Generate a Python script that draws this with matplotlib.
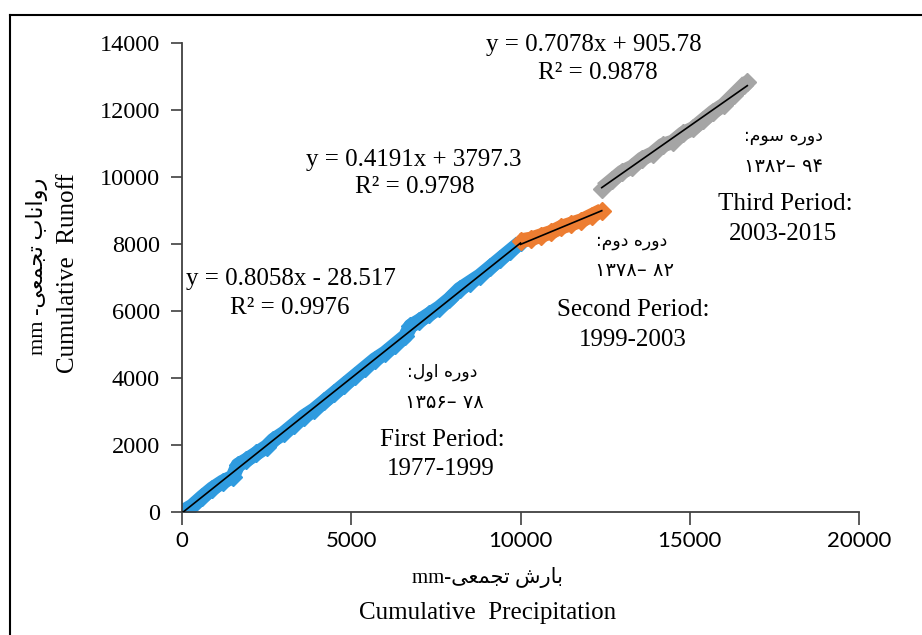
import matplotlib
matplotlib.use("Agg")
import matplotlib.pyplot as plt
from matplotlib.lines import Line2D
import numpy as np

# ---------------- data ----------------
p1_precip = [0, 300, 600, 900, 1200, 1500, 1650, 1900, 2200, 2500, 2700, 3000, 3300, 3600,
             3900, 4200, 4500, 4800, 5100, 5400, 5700, 6000, 6300, 6600, 6750, 7000, 7300,
             7600, 7900, 8200, 8500, 8800, 9100, 9400, 9700, 10000]
p1_runoff = [0, 180, 450, 700, 900, 1050, 1400, 1550, 1750, 1950, 2150, 2350, 2600, 2850,
             3050, 3300, 3550, 3800, 4050, 4300, 4550, 4750, 5000, 5250, 5550, 5700, 5900,
             6100, 6350, 6650, 6850, 7050, 7300, 7550, 7800, 8050]

p2_precip = [10000, 10300, 10600, 10900, 11200, 11500, 11800, 12100, 12400]
p2_runoff = [8100, 8150, 8250, 8350, 8500, 8600, 8700, 8850, 9000]

p3_precip = [12400, 12700, 13000, 13300, 13600, 13900, 14200, 14500, 14800, 15100,
             15400, 15700, 16000, 16300, 16600, 16700]
p3_runoff = [9650, 9900, 10150, 10300, 10550, 10700, 10950, 11050, 11300, 11450,
             11700, 11950, 12150, 12450, 12750, 12850]

# trend lines (slope, intercept) and R^2 as printed on the chart
trend_slopes = [0.8058, 0.4191, 0.7078]
trend_intercepts = [-28.517, 3797.3, 905.78]
r2_values = [0.9976, 0.9798, 0.9878]

x_ticks = [0, 5000, 10000, 15000, 20000]
y_ticks = [0, 2000, 4000, 6000, 8000, 10000, 12000, 14000]

colors = ["#2F9BDF", "#ED7D31", "#A5A5A5"]

# ---------------- figure ----------------
W, H = 922, 635
fig = plt.figure(figsize=(W / 100, H / 100), dpi=100)
ax = fig.add_axes([182 / W, 1 - 512 / H, (859 - 182) / W, (512 - 43) / H])

SERIF = ["Liberation Serif", "DejaVu Sans"]
PERS = ["DejaVu Sans"]

series = [(p1_precip, p1_runoff), (p2_precip, p2_runoff), (p3_precip, p3_runoff)]
for (xs, ys), c in zip(series, colors):
    ax.plot(xs, ys, color=c, lw=10.5, solid_capstyle="butt", zorder=2)
    ax.plot(xs, ys, ls="none", marker="D", ms=9, color=c, mec=c, zorder=2)

for (xs, ys), a, b in zip(series, trend_slopes, trend_intercepts):
    xx = np.array([min(xs), max(xs)], dtype=float)
    ax.plot(xx, a * xx + b, color="black", lw=1.2, zorder=3)

ax.set_xlim(0, 20000)
ax.set_ylim(0, 14000)
ax.set_xticks(x_ticks)
ax.set_yticks(y_ticks)
ax.set_xticklabels([str(v) for v in x_ticks], fontfamily="Lato", fontsize=16)
ax.set_yticklabels([str(v) for v in y_ticks], fontfamily="Liberation Serif", fontsize=17.5)
ax.tick_params(axis="y", direction="out", length=8, width=1.2, color="#404040", pad=8)
ax.tick_params(axis="x", direction="out", length=9, width=1.2, color="#404040", pad=5)
for s in ["top", "right"]:
    ax.spines[s].set_visible(False)
for s in ["left", "bottom"]:
    ax.spines[s].set_color("#404040")
    ax.spines[s].set_linewidth(1.3)


def ftext(px, py, s, size, family=SERIF, **kw):
    fig.text(px / W, 1 - py / H, s, fontsize=size, family=family,
             ha=kw.pop("ha", "center"), va=kw.pop("va", "center"), **kw)


# equations
def eq(a, b):
    sign = "+" if b >= 0 else "-"
    return f"y = {a:.4f}x {sign} {abs(b):g}"


ftext(291, 279, eq(trend_slopes[0], trend_intercepts[0]), 18)
ftext(290, 308, f"R² = {r2_values[0]:.4f}", 18)
ftext(414, 160, eq(trend_slopes[1], trend_intercepts[1]), 18)
ftext(415, 187, f"R² = {r2_values[1]:.4f}", 18)
ftext(594, 45, eq(trend_slopes[2], trend_intercepts[2]), 18)
ftext(598, 73, f"R² = {r2_values[2]:.4f}", 18)

# Persian labels (visual order, presentation forms)
dore = "\uFEE9\uFEAD\uFEED\uFEA9"
avval = "\uFEDD\uFEED\uFE8D"
dovvom = "\uFEE1\uFEED\uFEA9"
sevvom = "\uFEE1\uFEEE\uFEB3"
tajamoi = "\uFEF0\uFECC\uFEE4\uFEA0\uFE97"
baresh = "\uFEB5\uFEAD\uFE8E\uFE91"
ravanab = "\uFE8F\uFE8E\uFEE7\uFE8D\uFEED\uFEAD"

ftext(442, 372, ":" + avval + " " + dore, 12.5, family=PERS)
ftext(444, 403, "\u06F1\u06F3\u06F5\u06F6\u2013 \u06F7\u06F8", 14, family=PERS)
ftext(442, 440, "First Period:", 18)
ftext(441, 469, "1977-1999", 18)

ftext(632, 241, ":" + dovvom + " " + dore, 12.5, family=PERS)
ftext(634, 271, "\u06F1\u06F3\u06F7\u06F8\u2013 \u06F8\u06F2", 14, family=PERS)
ftext(633, 310, "Second Period:", 18)
ftext(633, 340, "1999-2003", 18)

ftext(783, 136, ":" + sevvom + " " + dore, 12.5, family=PERS)
ftext(783, 166, "\u06F1\u06F3\u06F8\u06F2\u2013 \u06F9\u06F4", 14, family=PERS)
ftext(785, 204, "Third Period:", 18)
ftext(783, 234, "2003-2015", 18)

# axis titles
ftext(487, 578, "mm-" + tajamoi + " " + baresh, 15)
ftext(488, 613, "Cumulative  Precipitation", 18)
ftext(37, 266, "mm -" + tajamoi + " " + ravanab, 16, rotation=90)
ftext(68, 273, "Cumulative  Runoff", 18, rotation=90)

# outer frame (left and top edges visible)
fig.add_artist(Line2D([10 / W, 10 / W], [0, 1 - 15 / H], color="black", lw=1.5,
                      transform=fig.transFigure))
fig.add_artist(Line2D([10 / W, 1], [1 - 15 / H, 1 - 15 / H], color="black", lw=1.5,
                      transform=fig.transFigure))

fig.savefig("out.png", dpi=100)
